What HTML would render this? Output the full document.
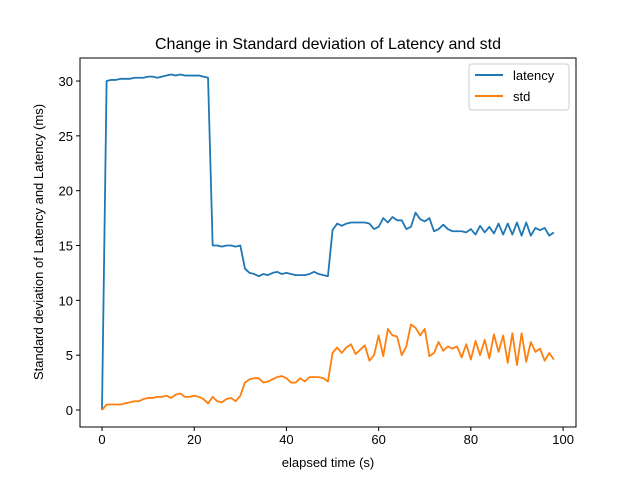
<!DOCTYPE html>
<html><head><meta charset="utf-8"><style>
body{margin:0;background:#fff}
svg{font-family:"Liberation Sans","DejaVu Sans",sans-serif}
</style></head><body>
<svg id="chart" width="640" height="480">
<rect width="640" height="480" fill="#fff"/>
<text x="328" y="49" text-anchor="middle" font-size="16">Change in Standard deviation of Latency and std</text>
<g id="plot"></g>
<rect x="80" y="58" width="496" height="369" fill="none" stroke="#000" stroke-width="1"/>
<text x="328" y="467" text-anchor="middle" font-size="13">elapsed time (s)</text>
<text transform="translate(43,242) rotate(-90)" text-anchor="middle" font-size="13">Standard deviation of Latency and Latency (ms)</text>
<g>
<rect x="469" y="64" width="100" height="46" rx="3" fill="#fff" stroke="#ccc"/>
<line x1="475" y1="75" x2="503" y2="75" stroke="#1f77b4" stroke-width="2"/>
<text x="513" y="80" font-size="13">latency</text>
<line x1="475" y1="96" x2="503" y2="96" stroke="#ff7f0e" stroke-width="2"/>
<text x="513" y="101" font-size="13">std</text>
</g>
</svg>
<script>
const latency=[0,30.0,30.1,30.1,30.2,30.2,30.2,30.3,30.3,30.3,30.4,30.4,30.3,30.4,30.5,30.6,30.5,30.6,30.5,30.5,30.5,30.5,30.4,30.3,15.0,15.0,14.9,15.0,15.0,14.9,15.0,12.9,12.5,12.4,12.2,12.4,12.3,12.5,12.6,12.4,12.5,12.4,12.3,12.3,12.3,12.4,12.6,12.4,12.3,12.2,16.4,17.0,16.8,17.0,17.1,17.1,17.1,17.1,17.0,16.5,16.7,17.5,17.1,17.6,17.3,17.3,16.5,16.7,18.0,17.4,17.2,17.5,16.3,16.5,16.9,16.5,16.3,16.3,16.3,16.2,16.5,16.0,16.8,16.2,16.7,16.1,17.0,16.0,17.0,16.0,17.1,15.9,17.1,15.9,16.6,16.4,16.6,15.9,16.2];
const std=[0,0.5,0.5,0.5,0.5,0.6,0.7,0.8,0.8,1.0,1.1,1.1,1.2,1.2,1.3,1.1,1.4,1.5,1.2,1.2,1.3,1.2,1.0,0.6,1.2,0.8,0.7,1.0,1.1,0.8,1.3,2.5,2.8,2.9,2.9,2.5,2.6,2.8,3.0,3.1,2.9,2.5,2.5,2.9,2.6,3.0,3.0,3.0,2.9,2.6,5.2,5.7,5.2,5.7,6.0,5.1,5.5,5.9,4.5,5.0,6.8,4.9,7.4,6.8,6.7,5.0,5.8,7.8,7.5,6.8,7.4,4.9,5.2,6.2,5.4,5.8,5.6,5.8,4.8,6.0,4.6,6.3,5.0,6.4,4.7,6.9,5.3,6.8,4.3,7.0,4.1,7.0,4.4,6.2,5.3,5.6,4.5,5.2,4.6];
const xTicks=[0,20,40,60,80,100];
const yTicks=[0,5,10,15,20,25,30];
const NS="http://www.w3.org/2000/svg";
const L=80,R=576,T=58,B=427,xmin=-4.77,xmax=102.8,ymin=-1.55,ymax=32.1;
const sx=v=>L+(v-xmin)/(xmax-xmin)*(R-L);
const sy=v=>B-(v-ymin)/(ymax-ymin)*(B-T);
const g=document.getElementById('plot');
function mk(t,a){const e=document.createElementNS(NS,t);for(const k in a)e.setAttribute(k,a[k]);g.appendChild(e);return e;}
xTicks.forEach(v=>{
 const l=mk('line',{x1:sx(v),x2:sx(v),y1:B,y2:B+4,stroke:'#000'});
 
 
 const t=mk('text',{x:sx(v),y:B+17,'text-anchor':'middle','font-size':'13'});t.textContent=v;
 
 
});
yTicks.forEach(v=>{
 const l=mk('line',{x1:L-4,x2:L,y1:sy(v),y2:sy(v),stroke:'#000'});
 
 
 const t=mk('text',{x:L-7,y:sy(v)+5,'text-anchor':'end','font-size':'13'});t.textContent=v;
 
 
});
function line(arr,color,name){
 const p=mk('polyline',{points:arr.map((v,i)=>sx(i)+','+sy(v)).join(' '),fill:'none',stroke:color,'stroke-width':'1.8','stroke-linejoin':'round'});
 
 
}
line(latency,'#1f77b4','latency-line');
line(std,'#ff7f0e','std-line');
</script>
</body></html>
